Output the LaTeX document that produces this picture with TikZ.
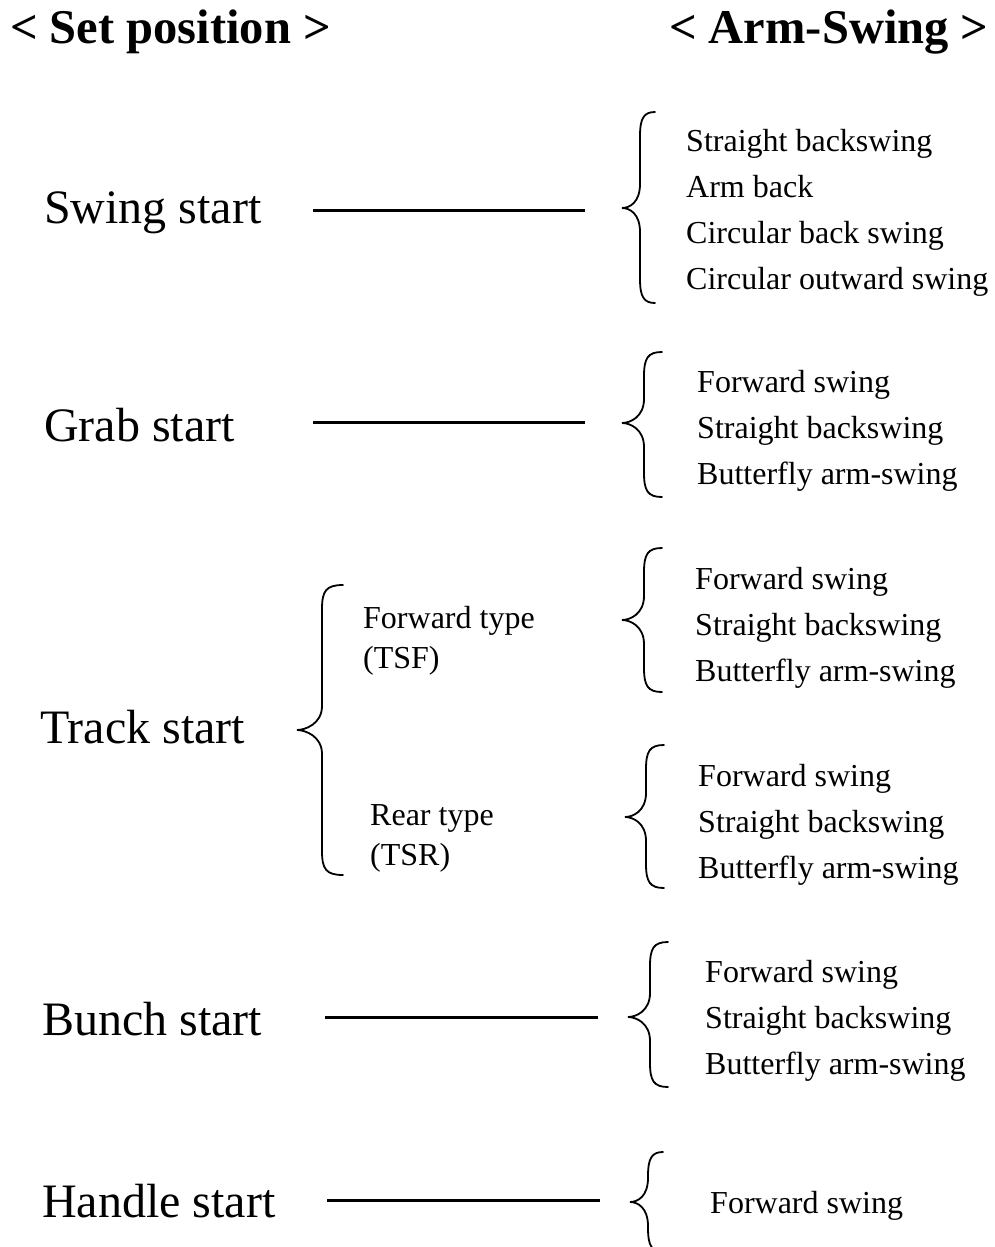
\documentclass[tikz,border=0pt]{standalone}
\usepackage{fontspec}
\setmainfont{Liberation Serif}
\newcommand\mybrace[6]{%
  \draw[bracestyle] (#1,#4) .. controls ({#2+4},#4) and (#2,{#4+6}) .. (#2,{#4+24})
    -- (#2,{#5-24}) .. controls (#2,{#5-6}) and ({#3+8},#5) .. (#3,#5)
    .. controls ({#3+8},#5) and (#2,{#5+6}) .. (#2,{#5+24})
    -- (#2,{#6-24}) .. controls (#2,{#6-6}) and ({#2+4},#6) .. (#1,#6);}
\tikzset{
  head/.style={anchor=base west, inner sep=0pt, font=\fontsize{48.5}{52}\selectfont\bfseries},
  big/.style={anchor=base west, inner sep=0pt, font=\fontsize{48}{52}\selectfont},
  item/.style={anchor=base west, inner sep=0pt, font=\fontsize{32}{34}\selectfont},
  link/.style={line width=3pt},
  bracestyle/.style={line width=1.8pt, line cap=round}
}
\begin{document}
\begin{tikzpicture}[x=1pt,y=-1pt]
\useasboundingbox (0,0) rectangle (995,1247);
\fill[white] (0,0) rectangle (995,1247);
% headers
\node[head] (h1) at (10,44) {< Set position >};
\node[head] (h2) at (669,44) {< Arm-Swing >};
% left labels
\node[big] (swing) at (44,223) {Swing start};
\node[big] (grab) at (44,441) {Grab start};
\node[big] (track) at (40,743) {Track start};
\node[big] (bunch) at (42,1035) {Bunch start};
\node[big] (handle) at (42,1217) {Handle start};
% connectors
\coordinate (s1) at (313,210); \coordinate (s2) at (585,210);
\coordinate (g1) at (313,422); \coordinate (g2) at (585,422);
\coordinate (b1) at (325,1017); \coordinate (b2) at (598,1017);
\coordinate (hh1) at (327,1200); \coordinate (hh2) at (600,1200);
\draw[link] (s1) -- (s2);
\draw[link] (g1) -- (g2);
\draw[link] (b1) -- (b2);
\draw[link] (hh1) -- (hh2);
% braces
\mybrace{655}{640}{622}{112}{208}{303}
\mybrace{662}{644}{622}{352}{423}{497}
\mybrace{662}{644}{622}{548}{620}{692}
\mybrace{664}{646}{625}{745}{817}{888}
\mybrace{668}{650}{628}{942}{1017}{1087}
\mybrace{663}{648}{630}{1152}{1202}{1252}
\mybrace{343}{322}{297}{585}{730}{875}
% track subtypes
\node[item] (tsf1) at (363,628) {Forward type};
\node[item] (tsf2) at (363,668) {(TSF)};
\node[item] (tsr1) at (370,825) {Rear type};
\node[item] (tsr2) at (370,865) {(TSR)};
% swing list
\node[item] (a1) at (686,151) {Straight backswing};
\node[item] (a2) at (686,197) {Arm back};
\node[item] (a3) at (686,243) {Circular back swing};
\node[item] (a4) at (686,289) {Circular outward swing};
% grab list
\node[item] (b1n) at (697,392) {Forward swing};
\node[item] (b2n) at (697,438) {Straight backswing};
\node[item] (b3n) at (697,484) {Butterfly arm-swing};
% TSF list
\node[item] (c1) at (695,589) {Forward swing};
\node[item] (c2) at (695,635) {Straight backswing};
\node[item] (c3) at (695,681) {Butterfly arm-swing};
% TSR list
\node[item] (d1) at (698,786) {Forward swing};
\node[item] (d2) at (698,832) {Straight backswing};
\node[item] (d3) at (698,878) {Butterfly arm-swing};
% bunch list
\node[item] (e1) at (705,982) {Forward swing};
\node[item] (e2) at (705,1028) {Straight backswing};
\node[item] (e3) at (705,1074) {Butterfly arm-swing};
% handle list
\node[item] (f1) at (710,1213) {Forward swing};
\end{tikzpicture}
\end{document}
